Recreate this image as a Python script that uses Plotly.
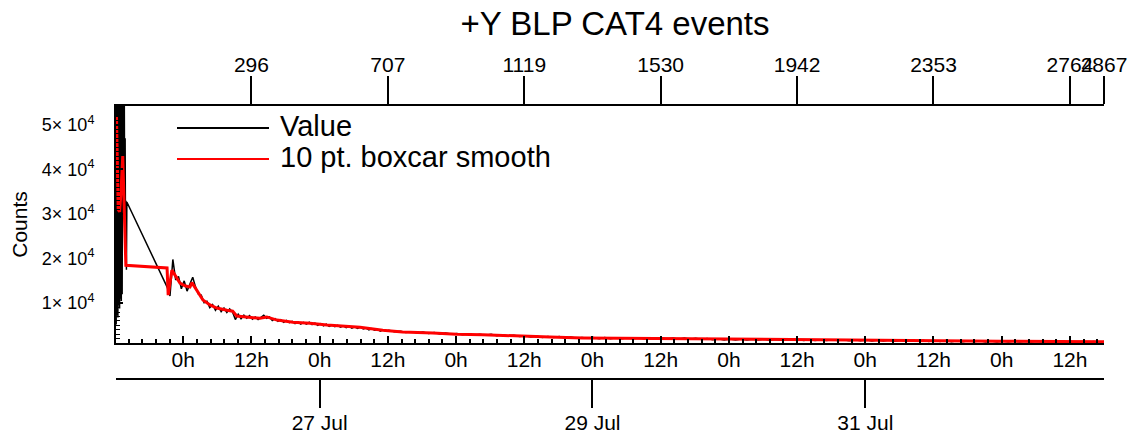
import plotly.graph_objects as go
import pandas as pd

# --- data -------------------------------------------------------------
# burst of samples right at the start (hours relative to 26 Jul 00:00)
burst_hours = [-11.8 + 0.075 * k for k in range(26)]
burst_counts = [5200, 61000, 7400, 58000, 6800, 60000, 9500, 57000, 8800, 62000,
                11000, 59000, 10500, 60000, 12000, 58000, 45000, 60000, 38000, 56000,
                30000, 47000, 21000, 33000, 17500, 32700]

# after the data gap: half-hourly samples, then hourly samples
early_times = pd.date_range("2021-07-25 21:10", periods=78, freq="30min")
early_counts = [13600, 11600, 19800, 15200, 16000, 13200, 15000, 12700, 14300, 15800,
                13600, 12000, 11800, 10100, 10400, 9000, 9700, 8400, 9300, 8100,
                8900, 7900, 8700, 8000, 6300, 7500, 6500, 7300, 6600, 7200,
                6400, 6900, 6300, 6800, 7300, 6600, 6900, 6100, 6500, 5900,
                6300, 5700, 6100, 5600, 5900, 5400, 5800, 5300, 5700, 5300,
                5700, 5200, 5500, 5000, 5400, 4900, 5300, 4800, 5100, 4700,
                5000, 4600, 4900, 4500, 4800, 4400, 4700, 4300, 4600, 4200,
                4400, 4000, 4300, 3900, 4100, 3700, 4000, 3700]

late_times = pd.date_range("2021-07-27 12:10", periods=127, freq="60min")
late_counts = [3900, 3600, 3700, 3400, 3600, 3300, 3500, 3200, 3400, 3100,
               3300, 3000, 3200, 2900, 3100, 2800, 3000, 2800, 3000, 2700,
               2900, 2600, 2800, 2500, 2700, 2400, 2600, 2300, 2500, 2300,
               2500, 2200, 2400, 2100, 2300, 2100, 2300, 2000, 2300, 2000,
               2200, 2000, 2200, 2000, 2200, 1950, 2200, 1950, 2150, 1950,
               2150, 1900, 2150, 1900, 2100, 1850, 2050, 1800, 2000, 1750,
               1950, 1750, 1950, 1700, 1900, 1700, 1900, 1650, 1850, 1650,
               1850, 1650, 1850, 1600, 1800, 1600, 1800, 1600, 1800, 1600,
               1800, 1550, 1750, 1550, 1750, 1500, 1700, 1500, 1700, 1450,
               1650, 1450, 1650, 1450, 1650, 1400, 1600, 1400, 1600, 1350,
               1550, 1350, 1550, 1350, 1550, 1300, 1500, 1300, 1500, 1300,
               1500, 1250, 1450, 1250, 1450, 1250, 1450, 1250, 1450, 1200,
               1400, 1200, 1400, 1200, 1400, 1200, 1400]

# 10 pt. boxcar smooth
smooth_hours = [-11.75, -11.6, -11.45, -11.2, -10.95, -10.65, -10.4, -10.1,
                -2.85, -2.65, -2.0, -0.58, 0.3, 1.18, 1.53, 2.4, 3.46, 4.7, 5.9,
                7.7, 8.7, 9.4, 11.2, 13.5, 14.7, 16.5, 19.3, 22.3, 25.3, 28.1,
                31.1, 35.1, 38.6, 43.9, 48.1, 52.7, 58.7, 64.5, 70.3, 79.0,
                87.9, 96.7, 106.7, 117.3, 129.6, 143.6, 154.1, 162.2]
smooth_counts = [52000, 38000, 31000, 30500, 35000, 43000, 34000, 18500,
                 17900, 11800, 17400, 14500, 13900, 13600, 14600, 12900, 10700, 9600, 8900,
                 8400, 8200, 7100, 6900, 6600, 6900, 6200, 5700, 5500, 5100, 4800,
                 4600, 3900, 3500, 3300, 3000, 2900, 2600, 2400, 2200, 2100,
                 2050, 1850, 1750, 1700, 1550, 1450, 1380, 1330]

y_tick_vals = [10000, 20000, 30000, 40000, 50000]
y_tick_text = ["1× 10<sup>4</sup>", "2× 10<sup>4</sup>", "3× 10<sup>4</sup>",
               "4× 10<sup>4</sup>", "5× 10<sup>4</sup>"]

point_tick_times = ["2021-07-26 12:00", "2021-07-27 12:00", "2021-07-28 12:00",
                    "2021-07-29 12:00", "2021-07-30 12:00", "2021-07-31 12:00",
                    "2021-08-01 12:00", "2021-08-01 18:00"]
point_tick_labels = ["296", "707", "1119", "1530", "1942", "2353", "2764", "2867"]

date_tick_times = ["2021-07-27", "2021-07-29", "2021-07-31"]

base = pd.Timestamp("2021-07-26 00:00")
value_times = list(base + pd.to_timedelta(burst_hours, unit="h")) + list(early_times) + list(late_times)
value_counts = burst_counts + early_counts + late_counts
smooth_times = base + pd.to_timedelta(smooth_hours, unit="h")

x_range = ["2021-07-25 12:10", "2021-08-01 18:00"]
font = "Liberation Sans, Arial, sans-serif"

fig = go.Figure()
# a hidden copy on each extra axis so plotly draws the date and point-number axes
fig.add_trace(go.Scatter(x=smooth_times, y=smooth_counts, mode="lines", xaxis="x2",
                         line=dict(color="rgba(0,0,0,0)", width=0),
                         showlegend=False, hoverinfo="skip"))
fig.add_trace(go.Scatter(x=smooth_times, y=smooth_counts, mode="lines", xaxis="x3",
                         line=dict(color="rgba(0,0,0,0)", width=0),
                         showlegend=False, hoverinfo="skip"))
fig.add_trace(go.Scatter(x=value_times, y=value_counts, mode="lines", name="Value",
                         line=dict(color="black", width=1.5), showlegend=False))
fig.add_trace(go.Scatter(x=smooth_times, y=smooth_counts, mode="lines",
                         name="10 pt. boxcar smooth",
                         line=dict(color="red", width=3), showlegend=False))

# the page body adds an 8 px margin, so the figure is 8 px smaller each way
fig.update_layout(
    template="none",
    width=1129, height=431,
    margin=dict(l=108, r=33, t=98, b=60),
    paper_bgcolor="white", plot_bgcolor="white",
    font=dict(family=font, size=21, color="black"),
    title=dict(text="+Y BLP CAT4 events", x=0.5 + 5 / 988, xref="paper", xanchor="center",
               y=1 - 15 / 431, yref="container", yanchor="middle",
               font=dict(size=33)),
    xaxis=dict(type="date", range=x_range, domain=[0, 1], anchor="y", automargin=False,
               showline=True, linecolor="black", linewidth=2, showgrid=False,
               zeroline=False, ticks="inside", ticklen=7, tickwidth=2, tickcolor="black",
               tick0="2021-07-26", dtick=12 * 3600 * 1000, tickformat="%-Hh",
               ticklabelstandoff=-3,
               minor=dict(ticks="inside", ticklen=4, tickwidth=2, tickcolor="black",
                          tick0="2021-07-26", dtick=2.4 * 3600 * 1000, showgrid=False)),
    xaxis2=dict(type="date", range=x_range, overlaying="x", anchor="free", position=0,
                side="bottom", automargin=False, showline=True, linecolor="black",
                linewidth=2, showgrid=False, zeroline=False, ticks="outside", ticklen=28,
                tickwidth=2, tickcolor="black", tickvals=date_tick_times,
                tickformat="%-d %b", tickangle=0, ticklabelstandoff=-3),
    xaxis3=dict(type="date", range=x_range, overlaying="x", anchor="y", side="top",
                automargin=False, showline=True, linecolor="black", linewidth=2,
                showgrid=False, zeroline=False, ticks="outside", ticklen=28, tickwidth=2,
                tickcolor="black", tickvals=point_tick_times, ticktext=point_tick_labels,
                tickangle=0, ticklabelstandoff=-4),
    yaxis=dict(range=[1050, 54250], domain=[36 / 273, 1], anchor="x", automargin=False,
               showline=True, linecolor="black", linewidth=2, showgrid=False,
               zeroline=False, ticks="inside", ticklen=7, tickwidth=2, tickcolor="black",
               tickvals=y_tick_vals, ticktext=y_tick_text, ticklabelstandoff=16,
               tickfont=dict(size=18),
               title=dict(text="Counts", standoff=10, font=dict(size=21)),
               minor=dict(ticks="inside", ticklen=4, tickwidth=1, tickcolor="black",
                          dtick=1000, showgrid=False)),
)

# legend drawn by hand (long line samples)
legend_items = [("Value", "black", 128, 126), ("10 pt. boxcar smooth", "red", 159, 157)]
for label, color, line_y, text_y in legend_items:
    yp = (379 - line_y) / 273
    fig.add_shape(type="line", xref="paper", yref="paper",
                  x0=(177 - 116) / 988, x1=(269 - 116) / 988, y0=yp, y1=yp,
                  line=dict(color=color, width=2))
    fig.add_annotation(text=label, xref="paper", yref="paper", showarrow=False,
                       x=(278 - 116) / 988, y=(379 - text_y) / 273,
                       xanchor="left", yanchor="middle", font=dict(size=29))

fig.write_html("out.html")
